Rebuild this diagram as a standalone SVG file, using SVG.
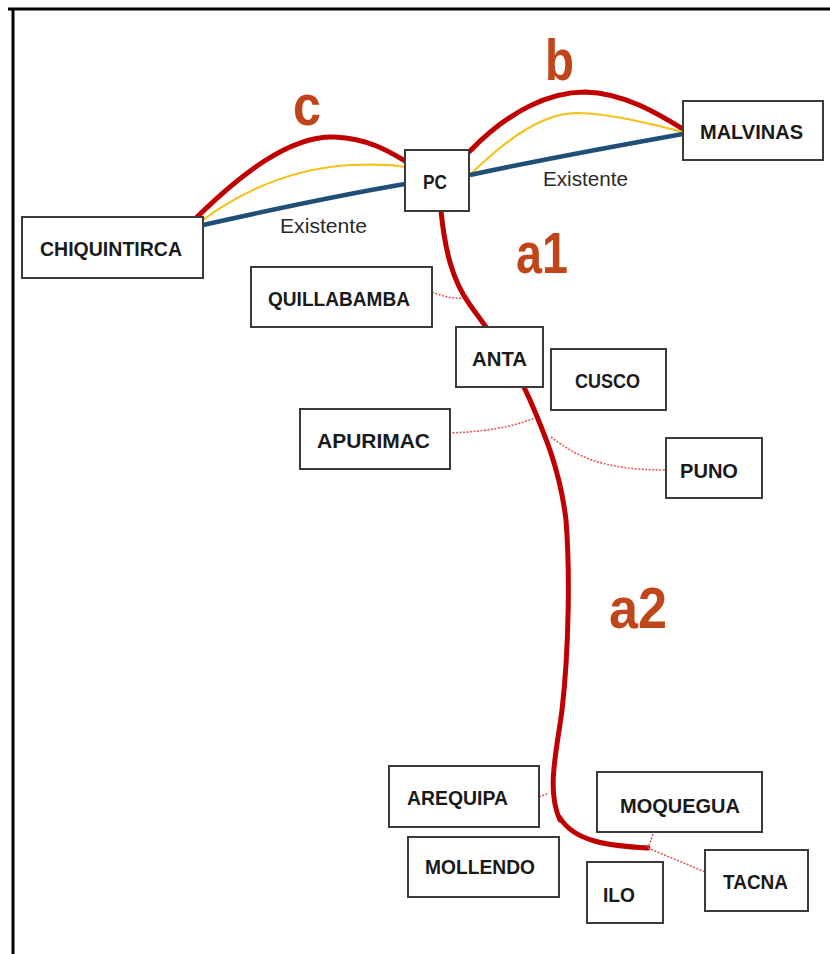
<svg xmlns="http://www.w3.org/2000/svg" width="830" height="954" viewBox="0 0 830 954">
  <style>
    .box { fill: #ffffff; stroke: #3a3a3a; stroke-width: 2; }
    .name { font-family: "Liberation Sans", Arial, sans-serif; font-weight: bold; font-size: 21px; fill: #1a1a1a; }
    .note { font-family: "Liberation Sans", Arial, sans-serif; font-size: 20px; fill: #2a2a2a; }
    .seg { font-family: "Liberation Sans", Arial, sans-serif; font-weight: bold; font-size: 57px; fill: #c0461a; }
    .new { fill: none; stroke: #c00000; stroke-width: 5; stroke-linecap: round; }
    .alt { fill: none; stroke: #f5c21b; stroke-width: 2.2; }
    .old { fill: none; stroke: #1f4e79; stroke-width: 4.5; }
    .tap { fill: none; stroke: #e05a5a; stroke-width: 1.6; stroke-dasharray: 2 1.5; }
  </style>

  <!-- page frame -->
  <g id="frame" stroke="#000" stroke-width="3">
    <line x1="8" y1="9" x2="830" y2="9"/>
    <line x1="13" y1="8" x2="13" y2="954"/>
  </g>

  <!-- connectors -->
  <g id="connectors">
    <!-- c: CHIQUINTIRCA - PC -->
    <path class="new" d="M197 217 C 240 175, 290 135, 335 137 C 370 139, 390 152, 405 161"/>
    <path class="alt" d="M200 222 C 250 185, 300 168, 350 165 C 375 164, 395 165, 405 167"/>
    <path class="old" d="M203 225 C 270 210, 340 195, 405 184"/>
    <!-- b: PC - MALVINAS -->
    <path class="new" d="M470 151 C 510 110, 550 92, 585 92 C 625 93, 660 115, 683 129"/>
    <path class="alt" d="M469 176 C 510 135, 545 113, 577 113 C 615 114, 655 125, 683 132"/>
    <path class="old" d="M470 175 C 540 160, 610 147, 683 134"/>
    <!-- a1 / a2: PC - ANTA - ILO -->
    <path class="new" stroke-width="4.5" d="M441 211 C 445 250, 452 280, 470 305 S 515 365, 530 400 S 560 470, 566 520 C 570 570, 569 650, 562 710 C 557 750, 546 790, 560 820"/>
    <path class="new" stroke-width="6.5" d="M560 818 C 575 842, 610 846, 648 848"/>
    <!-- feeders -->
    <path class="tap" d="M432 292 C 442 296, 452 299, 463 298"/>
    <path class="tap" d="M449 433 C 480 432, 510 428, 535 418"/>
    <path class="tap" d="M551 437 C 575 455, 600 470, 665 470"/>
    <path class="tap" d="M539 797 L 549 793"/>
    <path class="tap" d="M653 834 L 648 848"/>
    <path class="tap" d="M648 848 L 705 872"/>
  </g>

  <text class="note" x="280" y="233" textLength="87" lengthAdjust="spacingAndGlyphs">Existente</text>
  <text class="note" x="543" y="186" textLength="85" lengthAdjust="spacingAndGlyphs">Existente</text>

  <text class="seg" x="293" y="125" textLength="28" lengthAdjust="spacingAndGlyphs">c</text>
  <text class="seg" x="545" y="80" textLength="29" lengthAdjust="spacingAndGlyphs">b</text>
  <text class="seg" x="516" y="273" textLength="52" lengthAdjust="spacingAndGlyphs">a1</text>
  <text class="seg" x="609" y="628" textLength="58" lengthAdjust="spacingAndGlyphs">a2</text>

  <!-- nodes -->
  <g id="chiquintirca">
    <rect class="box" x="22" y="217" width="181" height="61"/>
    <text class="name" x="40" y="256" textLength="142" lengthAdjust="spacingAndGlyphs">CHIQUINTIRCA</text>
  </g>
  <g id="pc">
    <rect class="box" x="405" y="150" width="64" height="61"/>
    <text class="name" x="423" y="189" textLength="24" lengthAdjust="spacingAndGlyphs">PC</text>
  </g>
  <g id="malvinas">
    <rect class="box" x="683" y="101" width="140" height="59"/>
    <text class="name" x="700" y="139" textLength="103" lengthAdjust="spacingAndGlyphs">MALVINAS</text>
  </g>
  <g id="quillabamba">
    <rect class="box" x="251" y="267" width="181" height="60"/>
    <text class="name" x="268" y="306" textLength="142" lengthAdjust="spacingAndGlyphs">QUILLABAMBA</text>
  </g>
  <g id="anta">
    <rect class="box" x="456" y="327" width="87" height="60"/>
    <text class="name" x="472" y="366" textLength="55" lengthAdjust="spacingAndGlyphs">ANTA</text>
  </g>
  <g id="cusco">
    <rect class="box" x="551" y="349" width="115" height="61"/>
    <text class="name" x="575" y="388" textLength="65" lengthAdjust="spacingAndGlyphs">CUSCO</text>
  </g>
  <g id="apurimac">
    <rect class="box" x="300" y="409" width="150" height="60"/>
    <text class="name" x="317" y="448" textLength="113" lengthAdjust="spacingAndGlyphs">APURIMAC</text>
  </g>
  <g id="puno">
    <rect class="box" x="666" y="438" width="96" height="60"/>
    <text class="name" x="680" y="478" textLength="58" lengthAdjust="spacingAndGlyphs">PUNO</text>
  </g>
  <g id="arequipa">
    <rect class="box" x="389" y="766" width="150" height="61"/>
    <text class="name" x="407" y="805" textLength="101" lengthAdjust="spacingAndGlyphs">AREQUIPA</text>
  </g>
  <g id="moquegua">
    <rect class="box" x="597" y="772" width="165" height="60"/>
    <text class="name" x="620" y="813" textLength="120" lengthAdjust="spacingAndGlyphs">MOQUEGUA</text>
  </g>
  <g id="mollendo">
    <rect class="box" x="408" y="837" width="151" height="60"/>
    <text class="name" x="425" y="874" textLength="110" lengthAdjust="spacingAndGlyphs">MOLLENDO</text>
  </g>
  <g id="ilo">
    <rect class="box" x="587" y="862" width="76" height="61"/>
    <text class="name" x="603" y="902" textLength="32" lengthAdjust="spacingAndGlyphs">ILO</text>
  </g>
  <g id="tacna">
    <rect class="box" x="705" y="850" width="103" height="61"/>
    <text class="name" x="723" y="889" textLength="65" lengthAdjust="spacingAndGlyphs">TACNA</text>
  </g>
</svg>
